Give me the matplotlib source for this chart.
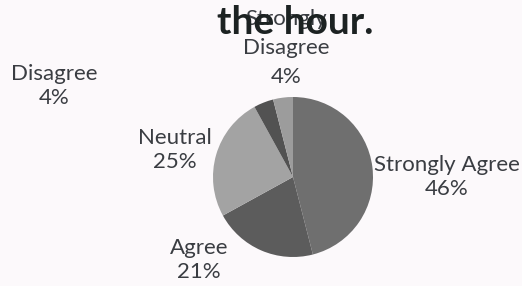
import matplotlib
matplotlib.use("Agg")
import matplotlib.pyplot as plt

categories = ["Strongly Agree", "Agree", "Neutral", "Disagree", "Strongly\nDisagree"]
values = [46, 21, 25, 4, 4]
colors = ["#6f6f6f", "#5c5c5c", "#a3a3a3", "#525252", "#9c9c9c"]
title = "the hour."

W, H = 522, 286
fig = plt.figure(figsize=(W / 100, H / 100), dpi=100, facecolor="#fcf9fb")

def fx(px):
    return px / W

def fy(py):
    return 1 - py / H

# pie axes: center (293,177) px, radius 80 px
cx, cy, r = 293, 177, 80
ax = fig.add_axes([fx(cx - r), fy(cy + r), 2 * r / W, 2 * r / H])
ax.set_facecolor("none")
wedges, _ = ax.pie(values, colors=colors, startangle=90, counterclock=False,
                   radius=1.0, wedgeprops=dict(linewidth=0))
ax.set_xlim(-1, 1)
ax.set_ylim(-1, 1)
ax.set_aspect("equal")
ax.axis("off")

font = "Lato"
tcol = "#3a3d42"
label_pos = [(447, 177), (199, 260), (175, 150), (54, 86), (286, 48)]
label_ls = [1.3, 1.3, 1.3, 1.3, 1.55]
for cat, val, (px, py), ls in zip(categories, values, label_pos, label_ls):
    fig.text(fx(px), fy(py), f"{cat}\n{val}%", ha="center", va="center",
             fontsize=16, family=font, color=tcol, linespacing=ls, zorder=2)

fig.text(fx(295), fy(22), title, ha="center", va="center", fontsize=28,
         family=font, fontweight="bold", color="#1c2222", zorder=3)

fig.savefig("out.png", dpi=100, facecolor=fig.get_facecolor())
